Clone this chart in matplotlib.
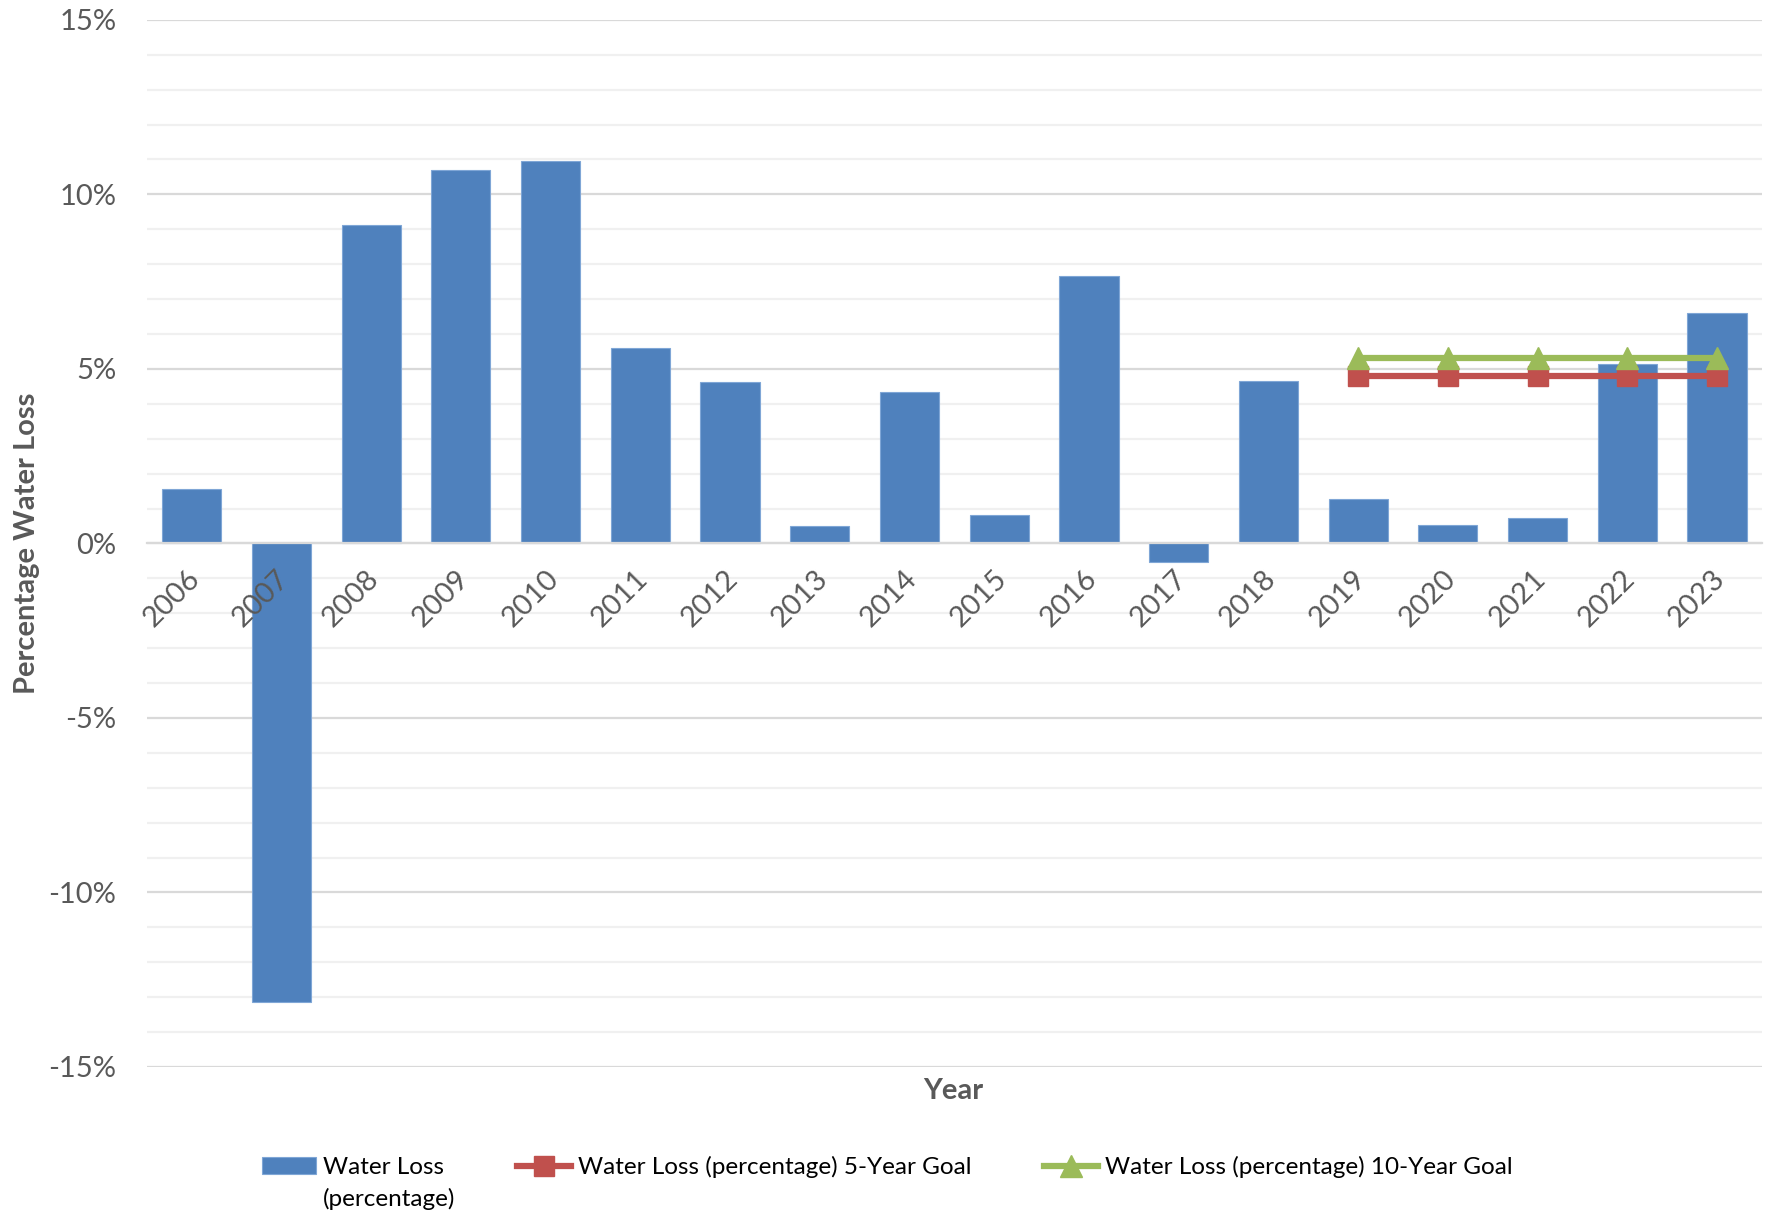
import matplotlib.pyplot as plt
import matplotlib.transforms as mtrans
from matplotlib.ticker import MultipleLocator, PercentFormatter

plt.rcParams['font.family'] = ['Lato', 'DejaVu Sans']
plt.rcParams['axes.unicode_minus'] = False

years = ["2006", "2007", "2008", "2009", "2010", "2011", "2012", "2013", "2014",
         "2015", "2016", "2017", "2018", "2019", "2020", "2021", "2022", "2023"]
water_loss = [1.55, -13.15, 9.13, 10.71, 10.97, 5.6, 4.63, 0.49, 4.34,
              0.81, 7.67, -0.52, 4.66, 1.26, 0.52, 0.74, 5.15, 6.6]
goal_years = ["2019", "2020", "2021", "2022", "2023"]
goal_5yr = [4.8, 4.8, 4.8, 4.8, 4.8]
goal_10yr = [5.3, 5.3, 5.3, 5.3, 5.3]

BLUE = "#4F81BD"
RED = "#C0504D"
GREEN = "#9BBB59"
TXT = "#595959"

fig = plt.figure(figsize=(17.69, 12.19), dpi=100)
ax = fig.add_axes([0.083, 0.1247, 0.913, 0.859])

x = list(range(len(years)))
gx = [years.index(y) for y in goal_years]

bars = ax.bar(x, water_loss, width=0.66, color=BLUE, edgecolor="#7fa6d6", linewidth=0.8,
              label="Water Loss", zorder=2)
l5, = ax.plot(gx, goal_5yr, color=RED, lw=4.5, marker="s", ms=14, mec=RED,
              label="Water Loss (percentage) 5-Year Goal", zorder=3)
l10, = ax.plot(gx, goal_10yr, color=GREEN, lw=4.5, marker="^", ms=16, mec=GREEN,
               label="Water Loss (percentage) 10-Year Goal", zorder=4)

ax.set_xlim(-0.5, len(years) - 0.5)
ax.set_ylim(-15, 15)
ax.yaxis.set_major_locator(MultipleLocator(5))
ax.yaxis.set_minor_locator(MultipleLocator(1))
ax.yaxis.set_major_formatter(PercentFormatter(decimals=0))
ax.grid(axis="y", which="major", color="#d9d9d9", lw=1.6, zorder=0)
ax.grid(axis="y", which="minor", color="#f0f0f0", lw=1.6, zorder=0)
ax.set_axisbelow(True)

for s in ["top", "right", "left"]:
    ax.spines[s].set_visible(False)
ax.spines["bottom"].set_position(("data", 0))
ax.spines["bottom"].set_color("#d9d9d9")
ax.spines["bottom"].set_linewidth(1.6)

# year labels drawn as text so they sit above the bars
ax.set_xticks(x)
ax.set_xticklabels([])
ax.tick_params(axis="x", length=0)
off = mtrans.ScaledTranslation(-4 / 72, -16 / 72, fig.dpi_scale_trans)
for i, yr in enumerate(years):
    ax.text(i, 0, yr, transform=ax.transData + off, rotation=45, ha="right", va="top",
            rotation_mode="anchor", fontsize=21, color=TXT, zorder=6)

ax.tick_params(axis="y", which="both", length=0, pad=22, labelsize=21, labelcolor=TXT)

ax.set_ylabel("Percentage Water Loss", fontsize=21, fontweight="bold", color=TXT)
ax.yaxis.set_label_coords(-0.066, 0.5)
fig.text(0.539, 0.105, "Year", fontsize=21, fontweight="bold", color=TXT, ha="center", va="center")

leg = fig.legend([bars, l5, l10], [bars.get_label(), l5.get_label(), l10.get_label()],
                 loc="center left", bbox_to_anchor=(0.136, 0.0425), ncol=3, frameon=False,
                 fontsize=17.5, handlelength=2.2, columnspacing=3.0, handletextpad=0.3,
                 labelcolor="black")

fig.canvas.draw()
bb = leg.get_texts()[0].get_window_extent().transformed(fig.transFigure.inverted())
fig.text(bb.x0, bb.y0 - 0.008, "(percentage)", fontsize=17.5, color="black", ha="left", va="top")

fig.savefig("out.png", dpi=100)
